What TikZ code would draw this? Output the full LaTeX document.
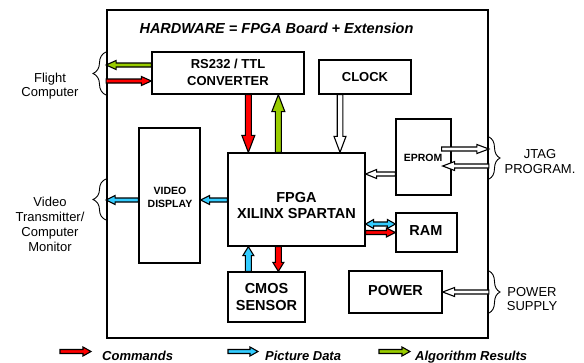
\documentclass[tikz,border=0pt]{standalone}
\usepackage{fontspec}
\setmainfont{Liberation Sans}
\usetikzlibrary{calc,decorations.pathreplacing}
\definecolor{cred}{HTML}{FF0000}
\definecolor{cblue}{HTML}{33CCFF}
\definecolor{cgreen}{HTML}{99CC00}
\tikzset{
  box/.style={draw=black, line width=1.3pt, fill=white, inner sep=0pt},
  boardbox/.style={draw=black, line width=1.8pt, inner sep=0pt},
  lbl/.style={anchor=base, inner sep=0pt, font=\fontsize{13}{15}\selectfont\bfseries},
  lblbig/.style={anchor=base, inner sep=0pt, font=\fontsize{14.5}{16}\selectfont\bfseries},
  lblsmall/.style={anchor=base, inner sep=0pt, font=\fontsize{10.5}{12}\selectfont\bfseries},
  side/.style={anchor=base, inner sep=0pt, font=\fontsize{13}{15}\selectfont},
  legtext/.style={anchor=base west, inner sep=0pt, font=\fontsize{13}{15}\selectfont\bfseries\itshape},
  brc/.style={decorate, decoration={brace, amplitude=#1}, line width=0.9pt},
  fat/.style n args={4}{draw=black, line width=1.1pt, fill=#1, line join=miter,
    to path={
      ($(\tikztostart)!#2!90:(\tikztotarget)$)
      -- ($(\tikztotarget)!#4!(\tikztostart)!#2!90:(\tikztotarget)$)
      -- ($(\tikztotarget)!#4!(\tikztostart)!#3!90:(\tikztotarget)$)
      -- (\tikztotarget)
      -- ($(\tikztotarget)!#4!(\tikztostart)!#3!-90:(\tikztotarget)$)
      -- ($(\tikztotarget)!#4!(\tikztostart)!#2!-90:(\tikztotarget)$)
      -- ($(\tikztostart)!#2!-90:(\tikztotarget)$) -- cycle}},
  fatboth/.style n args={4}{draw=black, line width=1.1pt, fill=#1, line join=miter,
    to path={
      (\tikztostart)
      -- ($(\tikztostart)!#4!(\tikztotarget)!#3!90:(\tikztotarget)$)
      -- ($(\tikztostart)!#4!(\tikztotarget)!#2!90:(\tikztotarget)$)
      -- ($(\tikztotarget)!#4!(\tikztostart)!#2!90:(\tikztotarget)$)
      -- ($(\tikztotarget)!#4!(\tikztostart)!#3!90:(\tikztotarget)$)
      -- (\tikztotarget)
      -- ($(\tikztotarget)!#4!(\tikztostart)!#3!-90:(\tikztotarget)$)
      -- ($(\tikztotarget)!#4!(\tikztostart)!#2!-90:(\tikztotarget)$)
      -- ($(\tikztostart)!#4!(\tikztotarget)!#2!-90:(\tikztotarget)$)
      -- ($(\tikztostart)!#4!(\tikztotarget)!#3!-90:(\tikztotarget)$)
      -- cycle}},
}
\begin{document}
\begin{tikzpicture}[x=1pt,y=-1pt]
\useasboundingbox (0,0) rectangle (584,362);
\fill[white] (0,0) rectangle (584,362);

% board
\node[boardbox, minimum width=381pt, minimum height=328pt] (board) at (297.5,174) {};
\node[anchor=base, inner sep=0pt, font=\fontsize{14.5}{17}\selectfont\bfseries\itshape] (title) at (276.5,33) {HARDWARE = FPGA Board + Extension};

% boxes
\node[box, minimum width=152pt, minimum height=42pt] (rs) at (228,73) {};
\node[box, minimum width=92pt, minimum height=34pt] (clock) at (365,77) {};
\node[box, minimum width=61pt, minimum height=135pt] (video) at (169.5,195.5) {};
\node[box, minimum width=137pt, minimum height=93pt] (fpga) at (296.5,199.5) {};
\node[box, minimum width=55pt, minimum height=76pt] (eprom) at (423.5,157) {};
\node[box, minimum width=61pt, minimum height=39pt] (ram) at (426.5,232.5) {};
\node[box, minimum width=77pt, minimum height=50pt] (cmos) at (266.5,297) {};
\node[box, minimum width=93pt, minimum height=42pt] (power) at (395.5,292) {};

% box labels
\node[lbl] (rs1) at (228,68) {RS232 / TTL};
\node[lbl] (rs2) at (228,85) {CONVERTER};
\node[lbl] (clk1) at (365,81) {CLOCK};
\node[lblsmall] (vd1) at (170,194) {VIDEO};
\node[lblsmall] (vd2) at (170,207) {DISPLAY};
\node[lblbig] (fp1) at (296.5,202) {FPGA};
\node[lblbig] (fp2) at (296.5,218) {XILINX SPARTAN};
\node[lblsmall] (ep1) at (423,161) {EPROM};
\node[lblbig] (ram1) at (426,235) {RAM};
\node[lblbig] (cm1) at (266.5,293) {CMOS};
\node[lblbig] (cm2) at (266.5,310) {SENSOR};
\node[lblbig] (pw1) at (395.5,295) {POWER};

% side labels
\node[side] (fc1) at (50,82) {Flight};
\node[side] (fc2) at (50,96) {Computer};
\node[side] (vt1) at (50,206) {Video};
\node[side] (vt2) at (50,221) {Transmitter/};
\node[side] (vt3) at (50,236) {Computer};
\node[side] (vt4) at (50,251) {Monitor};
\node[side] (jt1) at (540,158) {JTAG};
\node[side] (jt2) at (540,173) {PROGRAM.};
\node[side] (ps1) at (532,296) {POWER};
\node[side] (ps2) at (532,310) {SUPPLY};

% braces
\draw[brc=13pt] (106,95) -- (106,52);
\draw[brc=13pt] (106,220) -- (106,179);
\draw[brc=11pt] (489,137) -- (489,179);
\draw[brc=11pt] (489,271) -- (489,313);

% arrows: RS232 <-> flight computer
\draw[fat={cgreen}{2pt}{4.5pt}{10pt}] ($(rs.west)+(0,-8)$) to ($(rs.west -| board.west)+(0,-8)$);
\draw[fat={cred}{2pt}{4.5pt}{10pt}] ($(rs.west -| board.west)+(0,8)$) to ($(rs.west)+(0,8)$);
% RS232 <-> FPGA
\draw[fat={cred}{3pt}{6.5pt}{17pt}] ($(fpga.north west |- rs.south)+(21,0)$) to ($(fpga.north west)+(21,0)$);
\draw[fat={cgreen}{3pt}{6.5pt}{17pt}] ($(fpga.north west)+(51,0)$) to ($(fpga.north west |- rs.south)+(51,0)$);
% clock
\draw[fat={white}{2.8pt}{6pt}{16pt}] ($(clock.south)+(-25,0)$) to ($(clock.south |- fpga.north)+(-25,0)$);
% eprom -> fpga
\draw[fat={white}{2pt}{4.5pt}{11pt}] ($(eprom.west)+(0,17)$) to ($(eprom.west -| fpga.east)+(0,17)$);
% jtag
\draw[fat={white}{2pt}{4.5pt}{12pt}] ($(eprom.east)+(-10,-8)$) to ($(eprom.east -| board.east)+(0,-8)$);
\draw[fat={white}{2pt}{4.5pt}{12pt}] ($(eprom.east -| board.east)+(0,9)$) to ($(eprom.east)+(-9,9)$);
% power
\draw[fat={white}{2pt}{4.5pt}{12pt}] (power.east -| board.east) to (power.east);
% video
\draw[fat={cblue}{2pt}{4.5pt}{9pt}] ($(fpga.west)+(0,0.5)$) to ($(fpga.west -| video.east)+(0,0.5)$);
\draw[fat={cblue}{2pt}{4.5pt}{9pt}] ($(video.west)+(0,4.5)$) to ($(video.west -| board.west)+(0,4.5)$);
% ram
\draw[fatboth={cblue}{2pt}{4.5pt}{8pt}] ($(ram.west -| fpga.east)+(0,-8.5)$) to ($(ram.west)+(0,-8.5)$);
\draw[fat={cred}{2pt}{4.5pt}{9pt}] (ram.west -| fpga.east) to (ram.west);
% cmos
\draw[fat={cblue}{3pt}{5.5pt}{9pt}] ($(fpga.south west |- cmos.north)+(21,0)$) to ($(fpga.south west)+(21,0)$);
\draw[fat={cred}{3pt}{5.5pt}{9pt}] ($(fpga.south west)+(51,0)$) to ($(fpga.south west |- cmos.north)+(51,0)$);

% legend
\coordinate (lr1) at (60,351.5);
\coordinate (lr2) at (91,351.5);
\coordinate (lb1) at (228,351.5);
\coordinate (lb2) at (258,351.5);
\coordinate (lg1) at (379,351.5);
\coordinate (lg2) at (410,351.5);
\draw[fat={cred}{2pt}{4.5pt}{8pt}] (lr1) to (lr2);
\draw[fat={cblue}{2pt}{4.5pt}{8pt}] (lb1) to (lb2);
\draw[fat={cgreen}{2pt}{4.5pt}{8pt}] (lg1) to (lg2);
\node[legtext] (lt1) at (102,360) {Commands};
\node[legtext] (lt2) at (265,360) {Picture Data};
\node[legtext] (lt3) at (415,360) {Algorithm Results};
\end{tikzpicture}
\end{document}
